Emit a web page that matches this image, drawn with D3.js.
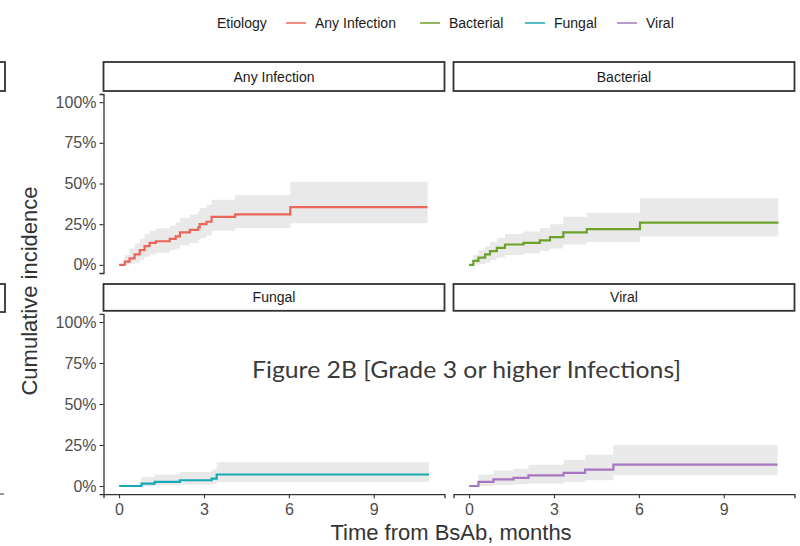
<!DOCTYPE html>
<html>
<head>
<meta charset="utf-8">
<script src="https://cdn.jsdelivr.net/npm/d3@7"></script>
<style>
  body { margin: 0; background: #fff; }
  svg { display: block; font-family: "Liberation Sans", Arial, sans-serif; }
</style>
</head>
<body>
<div id="chart"></div>
<script>
// facet / legend categories
const etiologies = ["Any Infection", "Bacterial", "Fungal", "Viral"];
const colors = ["#ea665a", "#6fa02a", "#17a9b4", "#a477c0"];
const xTicks = [0, 3, 6, 9];
const yTicks = [0, 25, 50, 75, 100];

// cumulative incidence (%), step after each time (months)
const anyTime  = [0, 0.2, 0.37, 0.55, 0.73, 0.9, 1.08, 1.3, 1.79, 2.0, 2.15, 2.5, 2.8, 2.85, 3.09, 3.27, 4.1, 6.05, 10.9];
const anyEst   = [0, 2, 4, 6.5, 9, 11.5, 13.5, 14.5, 16, 17.5, 20, 21.5, 23, 25, 26.5, 29.5, 31, 35.5, 35.5];
const anyLower = [0, 0, 0.5, 1.5, 3, 5, 6.5, 7.5, 9, 10, 12, 13.5, 15, 16.5, 18, 21, 22.5, 25.5, 25.5];
const anyUpper = [0, 6, 10, 13, 16, 19, 21, 22.5, 24, 26, 29, 31, 33, 35, 37, 40, 43, 51, 51];

const bacTime  = [0, 0.15, 0.33, 0.57, 0.74, 0.98, 1.27, 1.92, 2.5, 2.86, 3.33, 4.16, 6.04, 10.93];
const bacEst   = [0, 2.5, 4.5, 6.5, 8.5, 10.5, 12.5, 13.5, 15, 17, 20, 22, 26, 26];
const bacLower = [0, 0, 0.5, 1.5, 3, 4.5, 6, 7, 8.5, 10, 12.5, 14, 17.5, 17.5];
const bacUpper = [0, 6, 9, 11.5, 14, 16.5, 19, 20.5, 22.5, 25, 29.5, 32, 41, 41];

const funTime  = [0, 0.79, 1.26, 2.15, 3.27, 3.45, 10.95];
const funEst   = [0, 1.5, 2.5, 3.5, 4.5, 7, 7];
const funLower = [0, 0, 0.3, 0.7, 1.2, 2.5, 2.5];
const funUpper = [0, 5.5, 7, 8.5, 10, 14.5, 14.5];

const virTime  = [0, 0.33, 0.86, 1.57, 2.1, 3.34, 4.1, 5.1, 10.9];
const virEst   = [0, 2.5, 4, 5, 6.5, 8, 10, 13, 13];
const virLower = [0, 0, 0.5, 1, 1.5, 2.5, 3.5, 6.5, 6.5];
const virUpper = [0, 7, 9.5, 10.5, 13, 16, 19, 25, 25];

const series = [
  [anyTime, anyEst, anyLower, anyUpper],
  [bacTime, bacEst, bacLower, bacUpper],
  [funTime, funEst, funLower, funUpper],
  [virTime, virEst, virLower, virUpper]
].map((s, i) => ({
  name: etiologies[i],
  color: colors[i],
  col: i % 2,
  row: Math.floor(i / 2),
  pts: s[0].map((t, j) => ({ t: t, est: s[1][j], lo: s[2][j], hi: s[3][j] }))
}));

const svg = d3.select("#chart").append("svg")
  .attr("width", 800)
  .attr("height", 546);

// facet grid geometry
const cols = [{ left: 103.5, right: 444.5 }, { left: 453.5, right: 794.5 }];
const rows = [{ strip: 62, top: 94, bottom: 273 }, { strip: 284, top: 313.8, bottom: 494.2 }];

// bits of the neighbouring figure cut off at the left edge
svg.append("rect").attr("x", -300).attr("y", 62).attr("width", 305).attr("height", 29)
  .attr("fill", "none").attr("stroke", "#333").attr("stroke-width", 1.8);
svg.append("rect").attr("x", -300).attr("y", 284).attr("width", 305).attr("height", 28)
  .attr("fill", "none").attr("stroke", "#333").attr("stroke-width", 1.8);
svg.append("line").attr("x1", 0).attr("x2", 4).attr("y1", 494).attr("y2", 494)
  .attr("stroke", "#555").attr("stroke-width", 1.2);

series.forEach(s => {
  const c = cols[s.col], r = rows[s.row];
  const x = d3.scaleLinear().domain([-0.55, 11.5]).range([c.left, c.right]);
  const y = d3.scaleLinear().domain([-5, 105]).range([r.bottom, r.top]);
  const g = svg.append("g");

  // strip
  g.append("rect")
    .attr("x", c.left).attr("y", r.strip)
    .attr("width", c.right - c.left).attr("height", r.top - r.strip - 3)
    .attr("fill", "#fff").attr("stroke", "#333").attr("stroke-width", 1.8);
  g.append("text")
    .attr("x", (c.left + c.right) / 2).attr("y", r.strip + (r.top - r.strip - 3) / 2 + 5)
    .attr("text-anchor", "middle").attr("font-size", 14).attr("fill", "#1a1a1a")
    .text(s.name);

  // confidence band + step curve
  const area = d3.area().curve(d3.curveStepAfter)
    .x(d => x(d.t)).y0(d => y(d.lo)).y1(d => y(d.hi));
  const line = d3.line().curve(d3.curveStepAfter)
    .x(d => x(d.t)).y(d => y(d.est));
  g.append("path").datum(s.pts).attr("d", area).attr("fill", "#e9e9e9");
  g.append("path").datum(s.pts).attr("d", line)
    .attr("fill", "none").attr("stroke", s.color).attr("stroke-width", 2.2);

  // axes only on outer panels, like facet_wrap + theme_classic
  if (s.col === 0) {
    const ay = g.append("g").attr("transform", `translate(${c.left},0)`)
      .call(d3.axisLeft(y).tickValues(yTicks).tickFormat(d => d + "%").tickSizeOuter(0).tickSize(4).tickPadding(3));
    styleAxis(ay);
  }
  if (s.row === 1) {
    const ax = g.append("g").attr("transform", `translate(0,${r.bottom})`)
      .call(d3.axisBottom(x).tickValues(xTicks).tickSizeOuter(0).tickSize(4).tickPadding(5));
    styleAxis(ax);
  }
});

function styleAxis(a) {
  a.attr("font-family", null);
  a.select(".domain").attr("stroke", "#333").attr("stroke-width", 1.3);
  a.selectAll(".tick line").attr("stroke", "#333").attr("stroke-width", 1.1);
  a.selectAll(".tick text").attr("fill", "#4d4d4d").attr("font-size", 16);
}

// axis titles
svg.append("text")
  .attr("transform", "translate(37,291) rotate(-90)")
  .attr("text-anchor", "middle").attr("font-size", 22).attr("fill", "#333")
  .text("Cumulative incidence");
svg.append("text")
  .attr("x", 451).attr("y", 540)
  .attr("text-anchor", "middle").attr("font-size", 22).attr("fill", "#333")
  .text("Time from BsAb, months");

// legend
const legendX = [286, 420, 525, 617];
const legend = svg.append("g");
legend.append("text").attr("x", 217).attr("y", 28).attr("font-size", 14).attr("fill", "#1a1a1a").text("Etiology");
etiologies.forEach((e, i) => {
  legend.append("line")
    .attr("x1", legendX[i]).attr("x2", legendX[i] + 20).attr("y1", 23).attr("y2", 23)
    .attr("stroke", colors[i]).attr("stroke-width", 2).attr("opacity", 0.75);
  legend.append("text")
    .attr("x", legendX[i] + 29).attr("y", 28).attr("font-size", 14).attr("fill", "#1a1a1a")
    .text(e);
});

// pasted-on slide caption
svg.append("text")
  .attr("x", 252).attr("y", 378)
  .attr("textLength", 429).attr("lengthAdjust", "spacingAndGlyphs")
  .style("font-family", "Lato, 'Open Sans', sans-serif")
  .attr("font-size", 23).attr("fill", "#3a3a3a")
  .text("Figure 2B [Grade 3 or higher Infections]");
</script>
</body>
</html>
